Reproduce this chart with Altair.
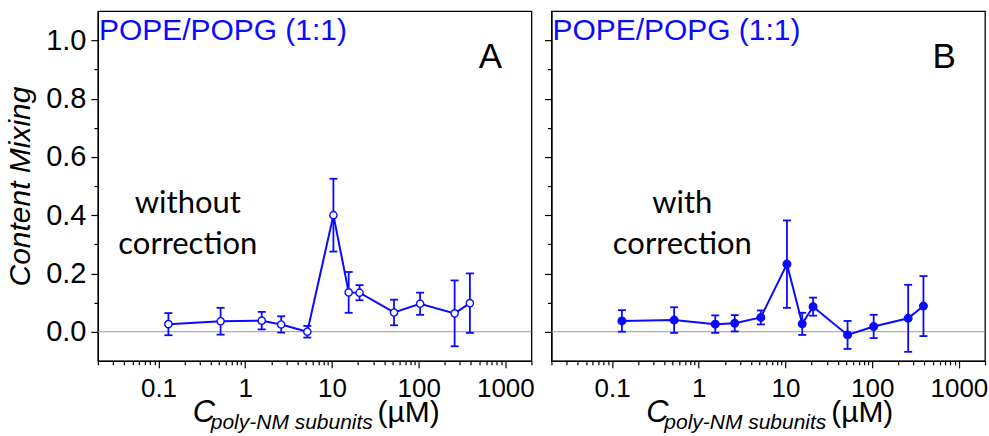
import altair as alt
import pandas as pd

# ---- data ----
conc = [0.13, 0.52, 1.55, 2.6, 5.2, 10.4, 15.6, 20.8, 52, 104, 260, 390]
mix_a = [0.026, 0.036, 0.038, 0.025, 0.0, 0.40, 0.135, 0.134, 0.066, 0.096, 0.063, 0.098]
err_a = [0.038, 0.046, 0.030, 0.028, 0.020, 0.125, 0.070, 0.026, 0.044, 0.038, 0.113, 0.102]
mix_b = [0.037, 0.040, 0.026, 0.029, 0.049, 0.232, 0.027, 0.086, -0.011, 0.018, 0.046, 0.088]
err_b = [0.037, 0.044, 0.030, 0.028, 0.024, 0.150, 0.038, 0.031, 0.048, 0.040, 0.115, 0.103]

x_domain = [0.02, 2000]
y_domain = [-0.1, 1.1]
x_ticks = [round(m * 10 ** e, 6) for e in range(-2, 4) for m in range(1, 10)
           if 0.02 <= m * 10 ** e <= 2000]
y_ticks = [round(i * 0.1, 1) for i in range(0, 11)]

lipid_label = "POPE/POPG (1:1)"
y_title = "Content Mixing"
x_title_main = "C"
x_title_sub = "poly-NM subunits"
x_title_unit = "(µM)"

BLUE = "#0a0aff"
FONT = "Liberation Sans"
W, H = 434, 350


def panel(mix, err, letter, note, filled, show_y_labels):
    df = pd.DataFrame({
        "conc": conc,
        "mix": mix,
        "lo": [m - e for m, e in zip(mix, err)],
        "hi": [m + e for m, e in zip(mix, err)],
    })
    xs = alt.Scale(type="log", domain=x_domain)
    ys = alt.Scale(domain=y_domain, nice=False, zero=False)
    decade = "abs(log(datum.value)/LN10 - round(log(datum.value)/LN10)) < 0.001"
    xax = alt.Axis(
        values=x_ticks, title=None, grid=False,
        labelExpr=decade + " ? format(datum.value, '~g') : ''",
        tickSize={"condition": {"test": decade, "value": 7}, "value": 4},
        labelFontSize=26, labelPadding=8, labelOverlap=False, labelFlush=False,
        labelFont=FONT, labelColor="black", tickColor="black", tickWidth=1.2,
        domainColor="black", domainWidth=1.3,
    )
    even = "round(datum.value*10) % 2 == 0"
    if show_y_labels:
        yax = alt.Axis(
            values=y_ticks, title=y_title, grid=False,
            titleFontStyle="italic", titleFontSize=30, titleFont=FONT, titleFontWeight="normal",
            titleColor="black", titlePadding=10,
            labelExpr=even + " ? format(datum.value, '.1f') : ''",
            tickSize={"condition": {"test": even, "value": 7}, "value": 4},
            labelFontSize=29, labelPadding=5, labelOverlap=False, labelFlush=False,
            labelFont=FONT, labelColor="black", tickColor="black", tickWidth=1.2,
            domainColor="black", domainWidth=1.3,
        )
    else:
        yax = alt.Axis(
            values=y_ticks, title=None, grid=False, labels=False,
            tickSize={"condition": {"test": even, "value": 7}, "value": 4},
            tickColor="black", tickWidth=1.2, domainColor="black", domainWidth=1.3,
        )

    X = alt.X("conc:Q", scale=xs, axis=xax)
    base = alt.Chart(df)

    zero = alt.Chart(pd.DataFrame({"z": [0.0]})).mark_rule(
        color="#9a9a9a", strokeWidth=1
    ).encode(y=alt.Y("z:Q", scale=ys, axis=yax))

    bars = base.mark_rule(color=BLUE, strokeWidth=1.8).encode(
        x=X, y=alt.Y("lo:Q", scale=ys, axis=yax), y2="hi:Q")
    cap_lo = base.mark_tick(orient="horizontal", color=BLUE, size=8, thickness=1.8, opacity=1).encode(
        x=X, y=alt.Y("lo:Q", scale=ys, axis=yax))
    cap_hi = base.mark_tick(orient="horizontal", color=BLUE, size=8, thickness=1.8, opacity=1).encode(
        x=X, y=alt.Y("hi:Q", scale=ys, axis=yax))
    line = base.mark_line(color=BLUE, strokeWidth=2).encode(
        x=X, y=alt.Y("mix:Q", scale=ys, axis=yax))
    pts = base.mark_point(
        shape="circle", filled=True, fill=BLUE if filled else "white",
        stroke=BLUE, strokeWidth=1.4, size=58 if filled else 52, opacity=1,
    ).encode(x=X, y=alt.Y("mix:Q", scale=ys, axis=yax))

    one = pd.DataFrame({"k": [0]})

    def txt(text, x, y, size, color="black", style="normal", font=FONT, align="left"):
        return alt.Chart(one).mark_text(
            text=text, font=font, fontSize=size, fontStyle=style, color=color,
            align=align, baseline="alphabetic",
        ).encode(x=alt.value(x), y=alt.value(y))

    texts = [
        txt(lipid_label, 1, 29, 30, color=BLUE),
        txt(letter, 393, 57, 35, align="center"),
        txt(note[0], note[2], 202, 31, font="Lato", align="center"),
        txt(note[1], note[2], 243, 31, font="Lato", align="center"),
        txt(x_title_main, 95, 411, 31, style="italic"),
        txt(x_title_sub, 113, 418, 21, style="italic"),
        txt(x_title_unit, 280, 411, 30),
    ]

    return alt.layer(zero, bars, cap_lo, cap_hi, line, pts, *texts).properties(width=W, height=H)


pa = panel(mix_a, err_a, "A", ("without", "correction", 90), False, True)
pb = panel(mix_b, err_b, "B", ("with", "correction", 131), True, False)

chart = alt.hconcat(pa, pb, spacing=7).properties(
    padding={"left": 5, "top": 10, "right": 0, "bottom": 0},
    background="white",
).configure(font=FONT).configure_view(stroke="black", strokeWidth=1.3)

chart.save("out.html", embed_options={"renderer": "svg", "actions": False})
